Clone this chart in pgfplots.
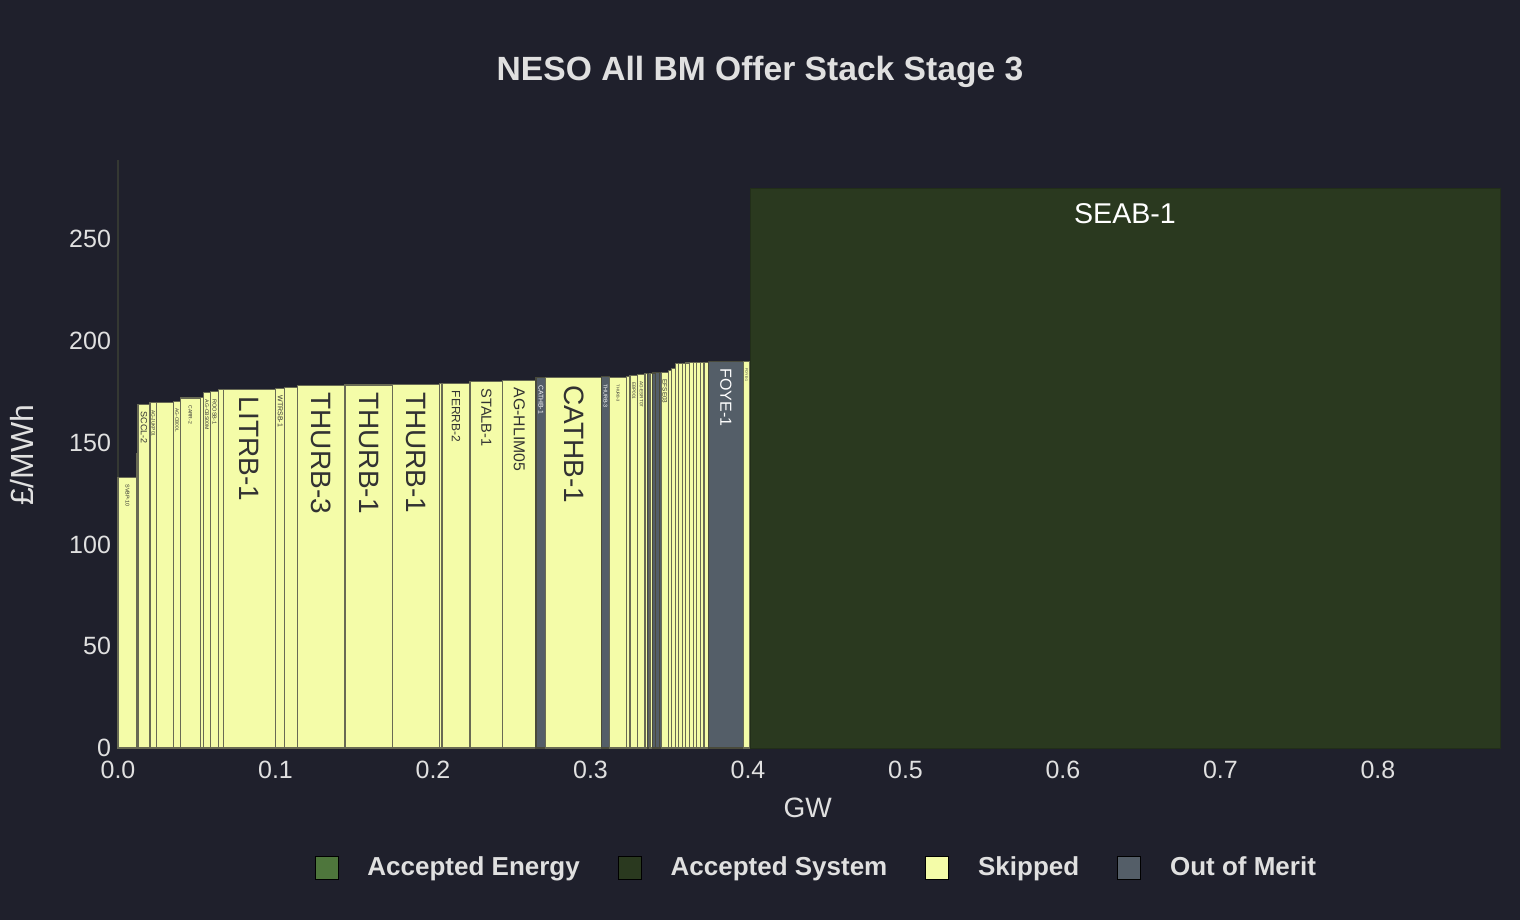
\documentclass[border=0pt]{standalone}
\usepackage{fontspec}
\setmainfont{Liberation Sans}
\usepackage{pgfplots}
\pgfplotsset{compat=1.18}

\definecolor{bg}{RGB}{31,32,44}
\definecolor{skipcol}{RGB}{244,252,168}
\definecolor{oomcol}{RGB}{84,94,104}
\definecolor{syscol}{RGB}{42,57,31}
\definecolor{engcol}{RGB}{78,118,60}
\definecolor{edgecol}{RGB}{104,106,84}
\definecolor{axiscol}{RGB}{52,56,50}
\definecolor{txt}{RGB}{224,224,224}
\definecolor{dlab}{RGB}{50,50,50}

\pgfplotsset{
  skip/.style={fill=skipcol, draw=edgecol, line width=0.55bp},
  oom/.style={fill=oomcol, draw=edgecol!70!black, line width=0.55bp},
  sys/.style={fill=syscol, draw=syscol!80!black, line width=0.5bp},
}

% one block of the stack: style, x from, x to, price
\newcommand{\stk}[4]{\addplot[#1, forget plot] coordinates {(#2,0) (#2,#4) (#3,#4) (#3,0)} --cycle;}
% vertical label inside a block: x mid, top, size, text, colour
\newcommand{\vlab}[5]{\node[rotate=-90, anchor=west, inner sep=0pt, text=#5,
  font=\fontsize{#3}{#3}\selectfont] at ([yshift=-3.5bp]axis cs:#1,#2) {#4};}

\begin{document}
\begin{tikzpicture}
\fill[bg] (0,0) rectangle (760bp,460bp);
\node[text=txt, font=\bfseries\fontsize{16.8bp}{18bp}\selectfont] at (380bp,424bp)
  {NESO All BM Offer Stack Stage 3};
\begin{axis}[
  at={(59bp,86bp)}, anchor=south west,
  scale only axis, width=691bp, height=294bp,
  xmin=0, xmax=0.8775, ymin=0, ymax=289,
  axis x line*=bottom, axis y line*=left,
  axis line style={-},
  x axis line style={draw=none},
  y axis line style={draw=axiscol, line width=0.7bp},
  major tick length=0pt,
  xtick={0,0.1,0.2,0.3,0.4,0.5,0.6,0.7,0.8},
  xticklabels={0.0,0.1,0.2,0.3,0.4,0.5,0.6,0.7,0.8},
  ytick={0,50,100,150,200,250},
  /pgf/number format/assume math mode=true,
  tick label style={font=\fontsize{12.5bp}{13bp}\selectfont, text=txt},
  xticklabel style={yshift=-3bp},
  xlabel={GW}, ylabel={£/MWh},
  label style={font=\fontsize{14bp}{15bp}\selectfont, text=txt},
  xlabel style={at={(axis description cs:0.499,-0.102)}, anchor=center},
  ylabel style={at={(axis description cs:-0.0695,0.498)}, anchor=center,
    font=\fontsize{16bp}{17bp}\selectfont},
  clip=false,
  legend columns=4,
  legend image code/.code={\fill[#1] (0bp,-5.75bp) rectangle (11.5bp,5.75bp);},
  legend style={at={(axis description cs:0.506,-0.204)}, anchor=center,
    draw=none, fill=none, text=txt,
    font=\bfseries\fontsize{13bp}{14bp}\selectfont,
    /tikz/every odd column/.append style={column sep=12.5bp},
    /tikz/every even column/.append style={column sep=17bp}},
]
\addlegendimage{fill=engcol}\addlegendentry{Accepted Energy}
\addlegendimage{fill=syscol}\addlegendentry{Accepted System}
\addlegendimage{fill=skipcol}\addlegendentry{Skipped}
\addlegendimage{fill=oomcol}\addlegendentry{Out of Merit}

\stk{skip}{0}{0.0119}{133.1}
\stk{skip}{0.0119}{0.0127}{144.9}
\stk{skip}{0.0127}{0.0203}{169.0}
\stk{skip}{0.0203}{0.0246}{169.6}
\stk{skip}{0.0246}{0.0351}{170.0}
\stk{skip}{0.0351}{0.0398}{170.4}
\stk{skip}{0.0398}{0.0521}{172.0}
\stk{skip}{0.0521}{0.0541}{172.4}
\stk{skip}{0.0541}{0.0588}{174.7}
\stk{skip}{0.0588}{0.0637}{175.0}
\stk{skip}{0.0637}{0.0668}{176.1}
\stk{skip}{0.0668}{0.1001}{176.3}
\stk{skip}{0.1001}{0.1060}{176.8}
\stk{skip}{0.1060}{0.1138}{177.2}
\stk{skip}{0.1138}{0.1441}{178.3}
\stk{skip}{0.1441}{0.1744}{178.4}
\stk{skip}{0.1744}{0.2044}{178.6}
\stk{skip}{0.2044}{0.2057}{179.0}
\stk{skip}{0.2057}{0.2235}{179.1}
\stk{skip}{0.2235}{0.2443}{180.3}
\stk{skip}{0.2443}{0.2654}{180.7}
\stk{oom}{0.2654}{0.2716}{181.9}
\stk{skip}{0.2716}{0.3071}{181.9}
\stk{oom}{0.3071}{0.3119}{182.4}
\stk{skip}{0.3119}{0.3230}{182.2}
\stk{skip}{0.3230}{0.3251}{182.8}
\stk{skip}{0.3251}{0.3300}{183.2}
\stk{skip}{0.3300}{0.3346}{183.7}
\stk{skip}{0.3346}{0.3361}{184.0}
\stk{oom}{0.3361}{0.3378}{184.2}
\stk{skip}{0.3378}{0.3392}{184.2}
\stk{oom}{0.3392}{0.3414}{184.3}
\stk{oom}{0.3414}{0.3441}{184.5}
\stk{oom}{0.3441}{0.3451}{184.6}
\stk{skip}{0.3451}{0.3494}{184.7}
\stk{skip}{0.3494}{0.3516}{185.7}
\stk{skip}{0.3516}{0.3537}{186.5}
\stk{skip}{0.3537}{0.3560}{188.8}
\stk{skip}{0.3560}{0.3583}{189.0}
\stk{skip}{0.3583}{0.3606}{189.1}
\stk{skip}{0.3606}{0.3629}{189.2}
\stk{skip}{0.3629}{0.3652}{189.3}
\stk{skip}{0.3652}{0.3675}{189.3}
\stk{skip}{0.3675}{0.3698}{189.4}
\stk{skip}{0.3698}{0.3721}{189.5}
\stk{skip}{0.3721}{0.3748}{189.6}
\stk{oom}{0.3748}{0.3970}{190.1}
\stk{skip}{0.3970}{0.4013}{190.1}
\stk{sys}{0.4013}{0.8775}{275.0}

\vlab{0.00595}{133.1}{2.7bp}{SVBP-10}{dlab}
\vlab{0.0165}{169.0}{4.5bp}{SCCL-2}{dlab}
\vlab{0.02245}{169.6}{2.4bp}{AG-JUKP01}{dlab}
\vlab{0.03745}{170.4}{2.4bp}{AG-CB00L}{dlab}
\vlab{0.04595}{172.0}{2.5bp}{CARR-2}{dlab}
\vlab{0.05645}{174.7}{2.6bp}{AG-CBS00M}{dlab}
\vlab{0.06125}{175.0}{2.8bp}{ROOSB-1}{dlab}
\vlab{0.08345}{176.3}{14bp}{LITRB-1}{dlab}
\vlab{0.10305}{176.8}{3.5bp}{WTRSB-1}{dlab}
\vlab{0.12895}{178.3}{14bp}{THURB-3}{dlab}
\vlab{0.15925}{178.4}{14bp}{THURB-1}{dlab}
\vlab{0.1894}{178.6}{14bp}{THURB-1}{dlab}
\vlab{0.2146}{179.1}{6bp}{FERRB-2}{dlab}
\vlab{0.2339}{180.3}{7.3bp}{STALB-1}{dlab}
\vlab{0.25485}{180.7}{7.9bp}{AG-HLIM05}{dlab}
\vlab{0.2685}{181.9}{3.4bp}{CATHB-1}{white}
\vlab{0.28935}{181.9}{14bp}{CATHB-1}{dlab}
\vlab{0.3095}{182.4}{2.7bp}{THURB-3}{white}
\vlab{0.31745}{182.2}{2bp}{THURB-3}{dlab}
\vlab{0.32755}{183.2}{2.3bp}{EBP001}{dlab}
\vlab{0.3323}{183.7}{2.3bp}{AG-ESRT07}{dlab}
\vlab{0.34725}{184.7}{3.2bp}{EFSE03}{dlab}
\vlab{0.3859}{190.1}{8bp}{FOYE-1}{white}
\vlab{0.39915}{190.1}{1.8bp}{FOYE-1}{dlab}
\node[anchor=north, inner sep=0pt, text=white, font=\fontsize{14.3bp}{15bp}\selectfont]
  at ([yshift=-7.5bp]axis cs:0.6394,275.0) {SEAB-1};
\end{axis}
\pgfresetboundingbox
\path (0,0) rectangle (760bp,460bp);
\end{tikzpicture}
\end{document}
